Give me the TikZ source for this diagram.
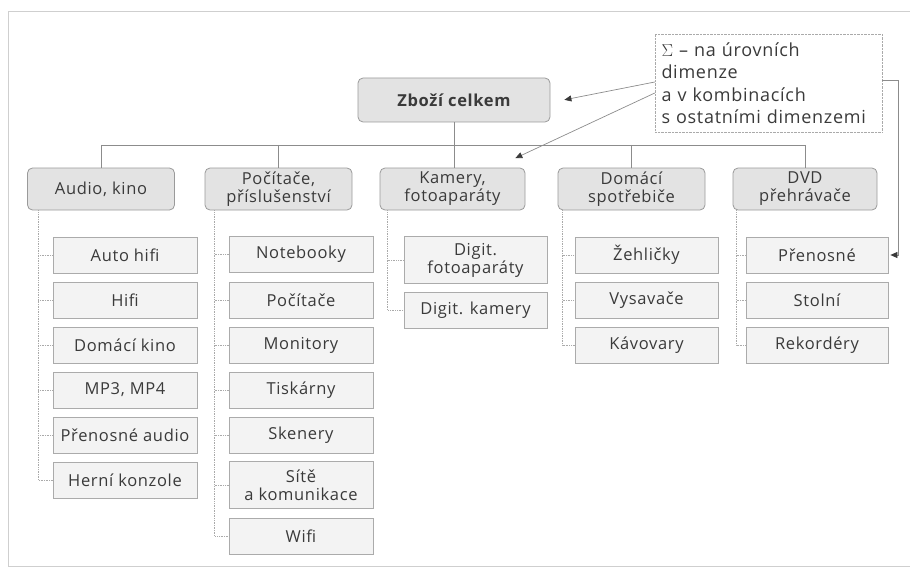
\documentclass[tikz,border=0pt]{standalone}
\usepackage{fontspec}
\setmainfont{Open Sans}
\newfontfamily\diafont[LetterSpace=4]{Open Sans}
\usetikzlibrary{arrows.meta}
\definecolor{catfill}{HTML}{E3E3E3}
\definecolor{catborder}{HTML}{9A9A9A}
\definecolor{itemfill}{HTML}{F3F3F3}
\definecolor{itemborder}{HTML}{ABABAB}
\definecolor{txt}{HTML}{3A3A3A}
\definecolor{busline}{HTML}{8C8C8C}
\definecolor{subline}{HTML}{AAAAAA}
\definecolor{framec}{HTML}{CFCFCF}
\begin{document}
\begin{tikzpicture}[x=1pt,y=-1pt,
  cat/.style={draw=catborder, fill=catfill, rounded corners=5pt, minimum width=147pt, minimum height=42pt, align=center, text=txt, font=\diafont\fontsize{16.5}{18}\selectfont, line width=0.8pt, inner sep=2pt},
  topbox/.style={cat, minimum width=192pt, minimum height=44pt, font=\diafont\fontsize{16.5}{18}\selectfont\bfseries},
  item/.style={draw=itemborder, fill=itemfill, minimum width=144pt, minimum height=36pt, align=center, text=txt, font=\diafont\fontsize{16.5}{18}\selectfont, line width=0.7pt, inner sep=2pt},
  item2/.style={item, minimum height=47pt},
  note/.style={draw=subline, densely dotted, minimum width=227pt, minimum height=98pt, text width=214pt, align=left, text=txt, font=\diafont\fontsize{18}{22.5}\selectfont, inner sep=0pt},
  bus/.style={draw=busline, line width=0.7pt},
  sub/.style={draw=subline, densely dotted, line width=0.7pt},
  arr/.style={draw=busline, line width=0.7pt, -{Triangle[length=7pt,width=6pt,color=txt]}, shorten >=1pt},
  frame/.style={draw=framec, line width=1pt}
]
\useasboundingbox (0,0) rectangle (910,567);
\draw[frame] (920,12) -- (8,12) -- (8,566) -- (920,566);

% top
\node[topbox] (top) at (454,100) {Zboží celkem};
\node[note] (note) at (768.5,83) {$\Sigma$ – na úrovních\\dimenze\\a v kombinacích\\s ostatními dimenzemi};

% categories
\node[cat] (audio) at (101,189) {Audio, kino};
\node[cat] (pc) at (278.5,189) {Počítače,\\příslušenství};
\node[cat, minimum width=145pt] (kam) at (452.5,189) {Kamery,\\fotoaparáty};
\node[cat] (dom) at (631.5,189) {Domácí\\spotřebiče};
\node[cat, minimum width=144pt] (dvd) at (805,189) {DVD\\přehrávače};

% bus
\coordinate (bus) at (454,145);
\draw[bus] (top.south) -- (bus);
\draw[bus] (audio.north |- bus) -- (dvd.north |- bus);
\foreach \c in {audio,pc,dom,dvd} \draw[bus] (\c.north |- bus) -- (\c.north);
\draw[bus] (bus) -- (kam.north -| bus);

% audio items
\node[item] (a1) at (125,255) {Auto hifi};
\node[item] (a2) at (125,300) {Hifi};
\node[item] (a3) at (125,345) {Domácí kino};
\node[item] (a4) at (125,390) {MP3, MP4};
\node[item] (a5) at (125,435) {Přenosné audio};
\node[item] (a6) at (125,480) {Herní konzole};

% pc items
\node[item] (p1) at (301,254) {Notebooky};
\node[item] (p2) at (301,300) {Počítače};
\node[item] (p3) at (301,345) {Monitory};
\node[item] (p4) at (301,390) {Tiskárny};
\node[item] (p5) at (301,435) {Skenery};
\node[item2] (p6) at (301,485) {Sítě\\a komunikace};
\node[item] (p7) at (301,536) {Wifi};

% kamery items
\node[item2, minimum width=143pt] (k1) at (475.5,260) {Digit.\\fotoaparáty};
\node[item, minimum width=143pt] (k2) at (475.5,310) {Digit. kamery};

% domaci items
\node[item, minimum width=143pt] (m1) at (646.5,255) {Žehličky};
\node[item, minimum width=143pt] (m2) at (646.5,300) {Vysavače};
\node[item, minimum width=143pt] (m3) at (646.5,345) {Kávovary};

% dvd items
\node[item, minimum width=142pt] (d1) at (817,255) {Přenosné};
\node[item, minimum width=142pt] (d2) at (817,300) {Stolní};
\node[item, minimum width=142pt] (d3) at (817,345) {Rekordéry};

% sub connectors
\coordinate (ca) at ([xshift=11pt]audio.south west);
\coordinate (cp) at ([xshift=10pt]pc.south west);
\coordinate (ck) at ([xshift=8pt]kam.south west);
\coordinate (cm) at ([xshift=5pt]dom.south west);
\coordinate (cd) at ([xshift=4pt]dvd.south west);
\draw[sub] (ca) |- (a6.west);
\foreach \i in {1,...,5} \draw[sub] (ca |- a\i.west) -- (a\i.west);
\draw[sub] (cp) |- (p7.west);
\foreach \i in {1,...,6} \draw[sub] (cp |- p\i.west) -- (p\i.west);
\draw[sub] (ck) |- (k2.west);
\draw[sub] (ck |- k1.west) -- (k1.west);
\draw[sub] (cm) |- (m3.west);
\foreach \i in {1,2} \draw[sub] (cm |- m\i.west) -- (m\i.west);
\draw[sub] (cd) |- (d3.west);
\foreach \i in {1,2} \draw[sub] (cd |- d\i.west) -- (d\i.west);

% arrows from note
\coordinate (n1) at ([yshift=1pt]note.west);
\coordinate (n2) at ([yshift=-10pt]note.west);
\coordinate (t1) at ([xshift=13pt]top.east);
\coordinate (t2) at ([xshift=-11pt,yshift=9pt]kam.north east);
\draw[arr] (n1) -- (t1);
\draw[arr] (n2) -- (t2);
\coordinate (n3) at ([yshift=3pt]note.east);
\coordinate (r3) at (898,0);
\draw[arr] (n3) -- (n3 -| r3) |- ([xshift=1pt]d1.east);
\end{tikzpicture}
\end{document}
